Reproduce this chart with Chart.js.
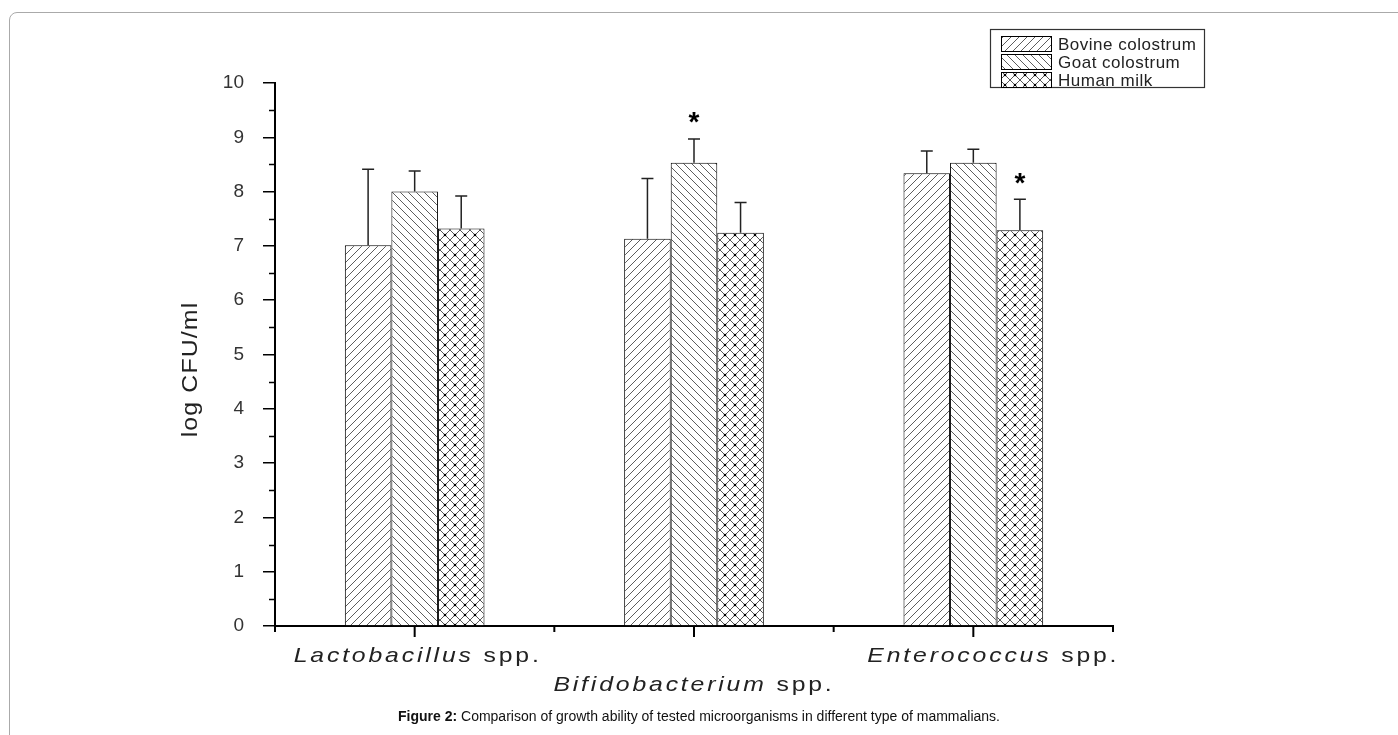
<!DOCTYPE html>
<html><head><meta charset="utf-8">
<script src="https://cdn.jsdelivr.net/npm/chart.js@4.4.1/dist/chart.umd.min.js"></script>
<style>
html,body{margin:0;padding:0;background:#fff;width:1398px;height:735px;overflow:hidden;}
#frame{position:absolute;left:9px;top:12px;width:1420px;height:800px;border:1.5px solid #aaa;border-radius:8px;box-sizing:border-box;}
#wrap{position:absolute;left:0;top:0;width:1398px;height:735px;}
#caption{position:absolute;left:0;width:1398px;top:708px;text-align:center;font:14px Arial,'Liberation Sans',sans-serif;color:#111;}
</style></head><body>
<div id="frame"></div>
<div id="wrap"><canvas id="c" width="1398" height="735"></canvas></div>
<div id="caption"><b>Figure 2:</b> Comparison of growth ability of tested microorganisms in different type of mammalians.</div>
<script>
// ---- data ----
const genus = ['Lactobacillus', 'Bifidobacterium', 'Enterococcus'];
const suffix = ' spp.';
const seriesNames = ['Bovine colostrum', 'Goat colostrum', 'Human milk'];
const bovine = [7.01, 7.13, 8.34];
const bovineErr = [1.40, 1.11, 0.41];
const goat = [8.00, 8.53, 8.53];
const goatErr = [0.38, 0.44, 0.25];
const human = [7.32, 7.24, 7.29];
const humanErr = [0.60, 0.56, 0.57];
const bovineSig = [false, false, false];
const goatSig = [false, true, false];
const humanSig = [false, false, true];
const yTitle = 'log CFU/ml';
const yMin = 0, yMax = 10, yStep = 1;

// ---- patterns ----
function makePattern(kind) {
  const s = kind === 'cross' ? 10 : 8;
  const cv = document.createElement('canvas');
  cv.width = s; cv.height = s;
  const g = cv.getContext('2d');
  g.fillStyle = '#fff'; g.fillRect(0, 0, s, s);
  g.strokeStyle = '#333'; g.lineWidth = 0.8;
  g.beginPath();
  if (kind === 'fwd') {
    g.moveTo(0, s); g.lineTo(s, 0);
    g.moveTo(-1, 1); g.lineTo(1, -1);
    g.moveTo(s - 1, s + 1); g.lineTo(s + 1, s - 1);
  } else if (kind === 'back') {
    g.moveTo(0, 0); g.lineTo(s, s);
    g.moveTo(s - 1, -1); g.lineTo(s + 1, 1);
    g.moveTo(-1, s - 1); g.lineTo(1, s + 1);
  } else {
    g.strokeStyle = '#444'; g.lineWidth = 0.9;
    g.moveTo(0, 0); g.lineTo(s, s);
    g.moveTo(s, 0); g.lineTo(0, s);
  }
  g.stroke();
  if (kind === 'cross') {
    g.fillStyle = '#000';
    g.beginPath(); g.arc(s / 2, s / 2, 1.3, 0, Math.PI * 2); g.fill();
  }
  return g.createPattern(cv, 'repeat');
}
const fills = [makePattern('fwd'), makePattern('back'), makePattern('cross')];

const FONT = "Arial, 'Liberation Sans', sans-serif";
const errs = [bovineErr, goatErr, humanErr];
const sigs = [bovineSig, goatSig, humanSig];

const extras = {
  id: 'extras',
  afterDatasetsDraw(chart) {
    const ctx = chart.ctx, y = chart.scales.y;
    ctx.save();
    chart.data.datasets.forEach((ds, di) => {
      const meta = chart.getDatasetMeta(di);
      meta.data.forEach((bar, i) => {
        const top = y.getPixelForValue(ds.data[i] + errs[di][i]);
        ctx.strokeStyle = '#222'; ctx.lineWidth = 1.5;
        ctx.beginPath();
        ctx.moveTo(bar.x, bar.y); ctx.lineTo(bar.x, top);
        ctx.moveTo(bar.x - 6, top); ctx.lineTo(bar.x + 6, top);
        ctx.stroke();
        if (sigs[di][i]) {
          ctx.font = 'bold 28px ' + FONT;
          ctx.fillStyle = '#000';
          ctx.textAlign = 'center'; ctx.textBaseline = 'alphabetic';
          const m = ctx.measureText('*');
          const cy = top - 21;
          ctx.fillText('*', bar.x, cy + (m.actualBoundingBoxAscent - m.actualBoundingBoxDescent) / 2);
        }
      });
    });
    ctx.restore();
  },
  afterDraw(chart) {
    const ctx = chart.ctx, x = chart.scales.x, y = chart.scales.y;
    const area = chart.chartArea;
    ctx.save();
    ctx.strokeStyle = '#000';
    // minor y ticks
    ctx.lineWidth = 1.5;
    ctx.beginPath();
    for (let v = yMin + yStep / 2; v < yMax; v += yStep) {
      const py = Math.round(y.getPixelForValue(v)) + 0.5;
      ctx.moveTo(area.left - 6, py); ctx.lineTo(area.left, py);
    }
    ctx.stroke();
    // x axis ticks
    ctx.lineWidth = 2;
    ctx.beginPath();
    const n = genus.length;
    for (let i = 0; i < n; i++) {
      const cx = x.getPixelForValue(i);
      ctx.moveTo(cx, area.bottom); ctx.lineTo(cx, area.bottom + 11);
    }
    for (let i = 0; i <= n; i++) {
      const bx = x.getPixelForValue(i - 0.5);
      ctx.moveTo(bx, area.bottom); ctx.lineTo(bx, area.bottom + 6);
    }
    ctx.stroke();
    // x labels (staggered, horizontally stretched)
    const rowY = [662, 691, 662];
    const offs = [3, 0, 20];
    const sx = 1.18;
    ctx.fillStyle = '#222';
    ctx.textBaseline = 'alphabetic'; ctx.textAlign = 'left';
    ctx.letterSpacing = '2.4px';
    genus.forEach((gname, i) => {
      ctx.font = 'italic 21px ' + FONT;
      const w1 = ctx.measureText(gname).width;
      ctx.font = '21px ' + FONT;
      const w2 = ctx.measureText(suffix).width;
      const cx = x.getPixelForValue(i) + offs[i];
      const left = cx - (w1 + w2) * sx / 2;
      ctx.save();
      ctx.translate(left, rowY[i]);
      ctx.scale(sx, 1);
      ctx.font = 'italic 21px ' + FONT;
      ctx.fillText(gname, 0, 0);
      ctx.font = '21px ' + FONT;
      ctx.fillText(suffix, w1, 0);
      ctx.restore();
    });
    // y title
    ctx.save();
    ctx.letterSpacing = '1px';
    ctx.font = '22px ' + FONT;
    ctx.translate(197, (area.top + area.bottom) / 2 + 15);
    ctx.rotate(-Math.PI / 2);
    ctx.scale(1.13, 1);
    ctx.textAlign = 'center';
    ctx.fillText(yTitle, 0, 0);
    ctx.restore();
    // legend
    ctx.letterSpacing = '0.5px';
    const lx = 990, ly = 29, lw = 214, lh = 58;
    ctx.fillStyle = '#fff';
    ctx.fillRect(lx, ly, lw, lh);
    ctx.lineWidth = 1.2; ctx.strokeStyle = '#333';
    ctx.strokeRect(lx + 0.5, ly + 0.5, lw, lh);
    chart.data.datasets.forEach((ds, di) => {
      const cy = 44 + di * 18;
      ctx.fillStyle = ds.backgroundColor;
      ctx.fillRect(1001, cy - 8, 50, 16);
      ctx.lineWidth = 1; ctx.strokeStyle = '#000';
      ctx.strokeRect(1001.5, cy - 7.5, 50, 15);
      ctx.fillStyle = '#222';
      ctx.font = '17px ' + FONT;
      ctx.textBaseline = 'middle';
      ctx.fillText(ds.label, 1058, cy + 1);
    });
    ctx.restore();
  }
};

new Chart(document.getElementById('c'), {
  type: 'bar',
  data: {
    labels: genus.map(g => g + suffix),
    datasets: [
      { label: seriesNames[0], data: bovine, backgroundColor: fills[0] },
      { label: seriesNames[1], data: goat, backgroundColor: fills[1] },
      { label: seriesNames[2], data: human, backgroundColor: fills[2] }
    ]
  },
  options: {
    responsive: false,
    animation: false,
    devicePixelRatio: 1,
    layout: { padding: { left: 175, right: 285, top: 83, bottom: 99 } },
    datasets: { bar: { categoryPercentage: 0.5, barPercentage: 1.0, borderColor: '#000', borderWidth: 1, borderSkipped: 'bottom' } },
    plugins: { legend: { display: false }, tooltip: { enabled: false } },
    scales: {
      x: {
        type: 'category', offset: true,
        grid: { display: false },
        border: { display: true, color: '#000', width: 2 },
        ticks: { display: false },
        afterFit(s) { s.height = 10; }
      },
      y: {
        min: yMin, max: yMax,
        ticks: { stepSize: yStep, font: { family: FONT, size: 19 }, color: '#333', padding: 19 },
        grid: { display: true, drawOnChartArea: false, drawTicks: true, tickLength: 12, color: '#000', lineWidth: 1.5 },
        border: { display: true, color: '#000', width: 2 },
        afterFit(s) { s.width = 100; }
      }
    }
  },
  plugins: [extras]
});
</script>
</body></html>
